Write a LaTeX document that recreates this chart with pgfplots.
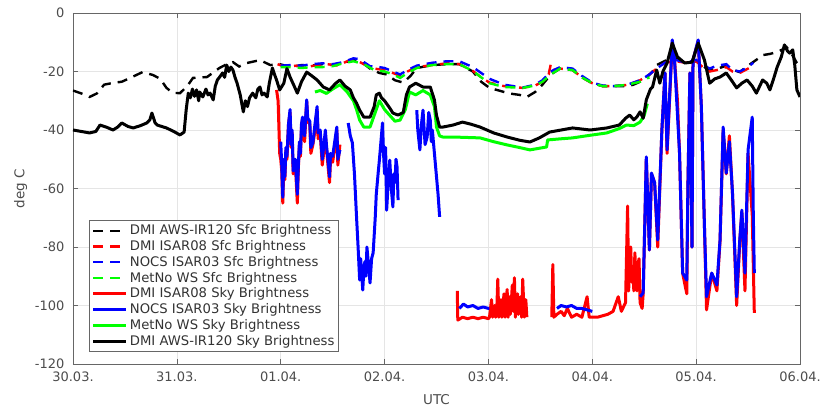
\documentclass[border=0pt]{standalone}
\usepackage{fontspec}
\setmainfont{DejaVu Sans}
\usepackage{pgfplots}
\pgfplotsset{compat=1.18}
\usepackage{pgfplotstable}

\pgfplotstableread{
x y
0 -26.5
0.08 -27.5
0.16 -28.7
0.23 -27.5
0.3 -24.5
0.385 -23.9
0.47 -23.5
0.55 -22.2
0.67 -20.2
0.77 -21.2
0.84 -22.5
0.9 -25.6
0.96 -27.3
1.03 -27.4
1.1 -25
1.155 -22.2
1.29 -21.9
1.41 -18.8
1.48 -17.5
1.54 -16.8
1.6 -18.3
1.675 -17.1
1.75 -16.5
1.8 -16.1
1.9 -17.8
1.99 -17.5
2.1 -18.5
2.2 -17.8
2.3 -18
2.4 -17.5
2.5 -17.8
2.6 -17
2.7 -16.2
2.76 -16.3
2.86 -19
2.95 -20.5
3.02 -21
3.1 -23
3.18 -23.8
3.25 -21.5
3.31 -18.8
3.46 -17.8
3.6 -17.5
3.72 -17.5
3.85 -20
3.93 -23.5
4.01 -25.6
4.1 -26.5
4.2 -27.5
4.3 -28
4.37 -28.7
4.45 -27
4.52 -24.5
4.6 -21
4.69 -19
4.81 -19.5
4.9 -22
5.0 -24
5.1 -25
5.2 -25
5.3 -25
5.39 -24.6
5.46 -23.5
5.52 -22.2
5.58 -20
5.62 -17.8
5.72 -16
5.8 -15.5
5.9 -17
6.0 -16.5
6.08 -18.5
6.13 -19.5
6.21 -19
6.29 -18
6.36 -19.5
6.42 -20.2
6.48 -18.5
6.54 -17
6.6 -15.5
6.64 -14.4
6.71 -14
6.78 -13.3
6.83 -12.5
6.87 -11.6
6.92 -14
6.97 -17.1
7.0 -18
}\awsSfc

\pgfplotstableread{
x y
1.97 -17.5
2.05 -18.5
2.15 -18
2.25 -18.5
2.35 -17.8
2.45 -17.5
2.55 -18
2.64 -16.5
2.72 -16
2.8 -17.5
2.9 -19
3.0 -19.5
3.08 -20.5
3.15 -21.5
3.22 -20
3.31 -18.5
3.46 -17.8
3.6 -17.2
3.72 -17.5
3.85 -19.8
3.93 -22
4.01 -23.8
4.15 -25
4.33 -25.6
4.45 -24.8
4.52 -23.5
4.58 -21
4.6 -17.5
4.62 -19.5
4.69 -19
4.81 -19.5
4.9 -22
5.0 -24
5.1 -25
5.2 -25
5.33 -24.6
5.46 -23
5.55 -21
5.62 -19
5.7 -17
5.8 -16.5
5.9 -17
6.0 -16.5
6.08 -19
6.13 -20
6.2 -19.5
6.29 -18.5
6.35 -20
6.42 -20.5
6.5 -19
6.55 -18
}\isarEightSfc

\pgfplotstableread{
x y
2.0 -18
2.1 -17.8
2.2 -18
2.3 -17.5
2.4 -17.2
2.5 -17.5
2.6 -16.8
2.7 -15.5
2.76 -15.8
2.86 -18.2
2.95 -18.5
3.0 -18.8
3.08 -20
3.15 -21
3.22 -19.5
3.31 -18
3.46 -17
3.6 -16.5
3.72 -16.5
3.85 -18.5
3.93 -20.5
4.01 -22.5
4.15 -24.5
4.33 -25.5
4.45 -24.5
4.52 -23
4.6 -20
4.69 -18.5
4.81 -19
4.9 -21.5
5.0 -23.8
5.1 -24.8
5.2 -25
5.33 -24.6
5.46 -23
5.55 -21
5.62 -19
5.7 -17
5.8 -16
5.9 -17
6.0 -16
6.08 -18
6.13 -19
6.2 -18
6.29 -17.5
6.35 -19.5
6.42 -20
6.5 -18.5
6.55 -17
}\isarThreeSfc

\pgfplotstableread{
x y
2.0 -18.5
2.1 -18.5
2.2 -18.8
2.3 -18.5
2.4 -18.5
2.5 -18.2
2.6 -17.2
2.7 -16.5
2.8 -17.5
2.9 -19.5
3.0 -20
3.08 -21
3.15 -22.2
3.22 -20.5
3.31 -18.8
3.46 -17.8
3.6 -17.5
3.72 -17.5
3.85 -19.8
3.93 -22
4.01 -24
4.15 -25.3
4.33 -25.6
4.45 -24.8
4.52 -23.5
4.6 -21
4.69 -19
4.81 -19.5
4.9 -22
5.0 -24
5.1 -25
5.2 -25
5.33 -24.6
5.46 -23.5
5.55 -22
}\metnoSfc

\pgfplotstableread{
x y
1.96 -26.3
1.975 -30
1.99 -48
2.0 -50
2.01 -54
2.02 -65
2.03 -52
2.04 -57
2.05 -47
2.06 -50
2.075 -38
2.09 -34
2.1 -46
2.11 -41
2.12 -55
2.14 -51
2.16 -65
2.17 -53
2.18 -45
2.19 -49
2.2 -39
2.21 -36
2.23 -44
2.25 -30
2.26 -37
2.28 -38
2.29 -48
2.31 -45
2.33 -40
2.35 -33
2.36 -43
2.38 -41
2.4 -52
2.41 -49
2.43 -42
2.44 -46
2.46 -54
2.47 -58
2.48 -50
2.5 -51
2.52 -46
2.54 -40
2.55 -52
2.57 -45
2.58 nan
3.7 -95
3.705 -105
3.75 -104
3.8 -104.5
3.85 -104
3.9 -104.5
3.95 -104
4.0 -104.5
4.01 -104
4.02 -101
4.03 -98
4.04 -104
4.05 -102
4.06 -100
4.07 -104
4.08 -102
4.09 -91
4.1 -104
4.11 -101
4.12 -98
4.13 -104
4.14 -100
4.15 -96
4.16 -104
4.17 -100
4.18 -94.5
4.19 -104
4.2 -97
4.21 -103
4.22 -99
4.23 -93
4.24 -102
4.245 -96
4.25 -90.5
4.26 -104
4.27 -98
4.28 -96
4.29 -103
4.3 -99
4.31 -97
4.32 -104
4.325 -98
4.33 -91
4.345 -104
4.36 -98
4.37 -104
4.38 nan
4.61 -104
4.62 -86
4.63 -104
4.66 -103
4.7 -102
4.73 -103.5
4.76 -101
4.8 -104
4.85 -103
4.9 -104
4.95 -97
4.97 -104
5.0 -104
5.05 -104
5.1 -103.5
5.15 -103
5.2 -102
5.25 -97
5.28 -102
5.32 -99
5.34 -66
5.35 -95
5.36 -85
5.37 -80
5.38 -92
5.39 -88
5.4 -95
5.41 -82
5.42 -90
5.43 -95
5.44 -86
5.45 -84
5.46 -99
5.48 -101
5.49 -96
5.52 -50
5.55 -81
5.57 -55
5.6 -58
5.63 -80
5.67 -40
5.7 -20.5
5.72 -48
5.77 -10
5.79 -15
5.82 -30
5.84 -48
5.87 -89
5.91 -96
5.92 -60
5.94 -20.5
5.96 -80
5.97 -16
6.02 -9.5
6.05 -32
6.08 -73
6.1 -101.5
6.15 -89
6.2 -95
6.23 -78
6.26 -40
6.29 -55
6.32 -42
6.35 -62
6.39 -100
6.42 -78
6.44 -68
6.47 -95
6.5 -48
6.54 -69
6.56 -102.5
}\isarEightSky

\pgfplotstableread{
x y
2.0 -44
2.01 -52
2.02 -63
2.03 -50
2.04 -56
2.05 -46
2.06 -49
2.075 -38
2.09 -33
2.1 -45
2.11 -40
2.12 -54
2.14 -50
2.16 -62
2.17 -52
2.18 -44
2.19 -48
2.2 -38
2.21 -35.6
2.23 -42
2.25 -29.7
2.26 -36
2.28 -37
2.29 -46
2.31 -44.4
2.33 -38
2.35 -32
2.36 -41
2.38 -40
2.4 -50
2.41 -47
2.43 -40
2.44 -45
2.46 -52
2.47 -56
2.48 -48
2.5 -49
2.52 -44
2.54 -39
2.55 -50
2.57 -46.8
2.6 nan
2.65 -37.6
2.67 -42
2.69 -44.4
2.71 -55
2.73 -69.7
2.745 -80
2.76 -91.3
2.77 -84
2.79 -94.7
2.8 -88
2.81 -85
2.82 -90
2.83 -80
2.845 -86
2.86 -92.3
2.875 -84
2.89 -82
2.9 -76
2.91 -70
2.92 -62
2.93 -58
2.94 -54
2.95 -50.3
2.965 -44
2.98 -37.6
2.99 -48
3.0 -55
3.01 -46
3.02 -67.4
3.035 -58
3.05 -50.3
3.065 -60
3.08 -66.3
3.09 -55
3.1 -58
3.11 -50
3.12 -52.6
3.13 -64
3.2 nan
3.31 -33.2
3.32 -40
3.34 -46.8
3.355 -38
3.37 -33.2
3.39 -45
3.41 -42.4
3.425 -34
3.44 -36.6
3.45 -44
3.46 -40
3.48 -48
3.5 -56
3.515 -62
3.53 -69.7
3.6 nan
3.72 -101
3.76 -99.5
3.8 -100.5
3.85 -100
3.9 -101
3.95 -100.5
4.0 -101
4.01 -101
4.3 nan
4.66 -101
4.7 -100
4.75 -100.5
4.8 -100
4.85 -101
4.9 -101
4.95 -101.5
5.0 -102
5.2 nan
5.46 -97
5.49 -95.7
5.52 -49.2
5.55 -81
5.57 -54.7
5.6 -58
5.63 -77.6
5.67 -40
5.7 -20.5
5.72 -46.8
5.77 -9.2
5.79 -15
5.84 -47.9
5.87 -88.9
5.91 -91.3
5.92 -60.5
5.94 -20.5
5.96 -80
5.97 -16.1
6.02 -9.2
6.05 -32
6.08 -73.2
6.1 -97
6.15 -88.9
6.2 -93
6.23 -77.6
6.26 -39
6.29 -54.7
6.32 -44
6.35 -61.5
6.39 -97
6.42 -77.6
6.44 -67.4
6.47 -88.9
6.5 -46.8
6.54 -35.6
6.55 -68.4
6.56 -88.9
}\isarThreeSky

\pgfplotstableread{
x y
2.33 -27
2.38 -26.5
2.44 -27.5
2.5 -26
2.57 -24.5
2.64 -27
2.7 -30
2.73 -33
2.76 -36.6
2.8 -39
2.86 -39
2.9 -35
2.95 -30
3.0 -33
3.05 -35
3.1 -37
3.15 -36.6
3.2 -33
3.24 -27
3.3 -28
3.37 -26.5
3.44 -28
3.48 -32
3.5 -39
3.53 -42
3.56 -42.4
3.66 -42.4
3.75 -42.5
3.92 -42.7
4.05 -44
4.18 -45.1
4.3 -46
4.4 -46.8
4.56 -45.8
4.57 -43.4
4.7 -43
4.81 -42.7
4.98 -41.8
5.14 -41
5.26 -39.5
5.33 -38.3
5.4 -38.5
5.46 -37.3
5.5 -35
5.53 -31
}\metnoSky

\pgfplotstableread{
x y
0 -40
0.08 -40.5
0.16 -41
0.22 -40.5
0.26 -38.3
0.32 -39
0.385 -40
0.43 -39
0.47 -37.6
0.53 -38.8
0.58 -39.3
0.65 -38.5
0.71 -37.6
0.74 -36.5
0.76 -34.2
0.79 -37.5
0.81 -38.3
0.9 -39.3
0.97 -40.5
1.03 -41.7
1.07 -40.7
1.09 -33
1.11 -27.4
1.13 -29
1.15 -26
1.17 -28.5
1.19 -26.3
1.21 -30
1.22 -27
1.25 -28.7
1.28 -26
1.3 -28
1.32 -27.4
1.35 -29.7
1.37 -25
1.39 -22.9
1.41 -22
1.44 -20.5
1.46 -22
1.48 -17.8
1.5 -20
1.52 -18.5
1.54 -19.5
1.56 -22
1.58 -24
1.61 -28
1.64 -33.8
1.66 -30
1.68 -32
1.7 -29
1.73 -27.4
1.76 -29
1.78 -26
1.8 -25.3
1.82 -28
1.84 -27.4
1.87 -28.7
1.89 -24
1.92 -18.8
1.94 -21
1.96 -22.9
1.99 -26.3
2.03 -24
2.06 -19
2.09 -21.9
2.13 -25
2.16 -27.4
2.2 -23.5
2.25 -20.2
2.3 -21.5
2.35 -22.9
2.41 -25.3
2.47 -26.3
2.53 -24
2.57 -22.9
2.62 -25
2.67 -26.3
2.7 -29
2.73 -30.8
2.76 -33.2
2.8 -35.6
2.86 -35.6
2.9 -32
2.92 -28
2.95 -27.4
2.97 -29
3.0 -30
3.05 -32.5
3.08 -34.2
3.13 -34.9
3.18 -34
3.21 -28
3.24 -25.3
3.3 -24
3.37 -25.3
3.44 -25.3
3.48 -29.7
3.5 -35
3.53 -39
3.56 -39
3.66 -38.3
3.75 -37.3
3.83 -38
3.92 -39
4.05 -41
4.18 -42.4
4.3 -43.5
4.4 -44.1
4.49 -42.7
4.59 -40.7
4.7 -40
4.81 -39.3
4.98 -40
5.14 -39.3
5.26 -38.3
5.32 -36
5.36 -34.9
5.4 -36.5
5.43 -35.5
5.46 -33.8
5.49 -36
5.52 -29.7
5.56 -26
5.58 -25.3
5.62 -19.5
5.65 -24
5.68 -20
5.72 -17.1
5.77 -10.3
5.82 -15
5.89 -17.1
5.96 -16.8
6.02 -10.3
6.08 -16.1
6.13 -24
6.18 -22.5
6.23 -21.9
6.29 -20.5
6.34 -23
6.39 -25.6
6.44 -24
6.49 -22.9
6.54 -25
6.58 -27.4
6.64 -22.9
6.68 -24
6.71 -26.3
6.75 -22
6.78 -18.5
6.82 -15
6.85 -10.9
6.88 -13
6.9 -13.7
6.93 -12.6
6.95 -18
6.97 -26.3
7.0 -28.7
}\awsSky

\definecolor{mred}{RGB}{255,0,0}
\definecolor{mblue}{RGB}{0,0,255}
\definecolor{mgreen}{RGB}{0,255,0}

\begin{document}
\fontsize{13}{15}\selectfont
\begin{tikzpicture}
\begin{axis}[
  name=ax,
  scale only axis,
  width=727pt, height=351pt,
  xmin=0, xmax=7, ymin=-120, ymax=0,
  xtick={0,1,2,3,4,5,6,7},
  xticklabels={30.03.,31.03.,01.04.,02.04.,03.04.,04.04.,05.04.,06.04.},
  ytick={-120,-100,-80,-60,-40,-20,0},
  /pgf/number format/assume math mode=true,
  tick label style={font=\fontsize{13}{15}\selectfont, text=black!70},
  xticklabel style={yshift=-3pt},
  yticklabel style={xshift=-4pt},
  tick align=inside,
  major tick length=5pt,
  tick style={black!60, line width=0.6pt},
  axis line style={black!60, line width=0.8pt},
  grid=major,
  major grid style={black!10, line width=0.6pt},
  xlabel={UTC}, ylabel={deg C},
  label style={font=\fontsize{13.5}{15}\selectfont, text=black!70},
  xlabel style={at={(axis description cs:0.5,-0.1)}, anchor=center},
  ylabel style={at={(axis description cs:-0.072,0.5)}, anchor=center},
  unbounded coords=jump,
  legend cell align=left,
  legend style={at={(0.022,0.034)}, anchor=south west, draw=black!60, line width=0.8pt,
    font=\fontsize{13.2}{15}\selectfont, text=black!80, fill=white,
    inner sep=2.5pt, row sep=-0.2pt},
  legend image code/.code={\draw[#1] (0pt,0pt) -- (33pt,0pt);},
]
\addplot[black, line width=2.4pt, dash pattern=on 10pt off 7pt] table {\awsSfc};
\addlegendentry{DMI AWS-IR120 Sfc Brightness}
\addplot[mred, line width=2.4pt, dash pattern=on 10pt off 7pt] table {\isarEightSfc};
\addlegendentry{DMI ISAR08 Sfc Brightness}
\addplot[mblue, line width=2.4pt, dash pattern=on 10pt off 7pt] table {\isarThreeSfc};
\addlegendentry{NOCS ISAR03 Sfc Brightness}
\addplot[mgreen, line width=2.4pt, dash pattern=on 10pt off 7pt] table {\metnoSfc};
\addlegendentry{MetNo WS Sfc Brightness}
\addplot[mred, line width=3pt, line join=round] table {\isarEightSky};
\addlegendentry{DMI ISAR08 Sky Brightness}
\addplot[mblue, line width=3pt, line join=round] table {\isarThreeSky};
\addlegendentry{NOCS ISAR03 Sky Brightness}
\addplot[mgreen, line width=3pt, line join=round] table {\metnoSky};
\addlegendentry{MetNo WS Sky Brightness}
\addplot[black, line width=3pt, line join=round] table {\awsSky};
\addlegendentry{DMI AWS-IR120 Sky Brightness}
\coordinate (bl) at (rel axis cs:0,0);
\coordinate (tr) at (rel axis cs:1,1);
\end{axis}
\pgfresetboundingbox
\path[use as bounding box] ([shift={(-73pt,-46pt)}]bl) rectangle ([shift={(21pt,13pt)}]tr);
\end{tikzpicture}
\end{document}
